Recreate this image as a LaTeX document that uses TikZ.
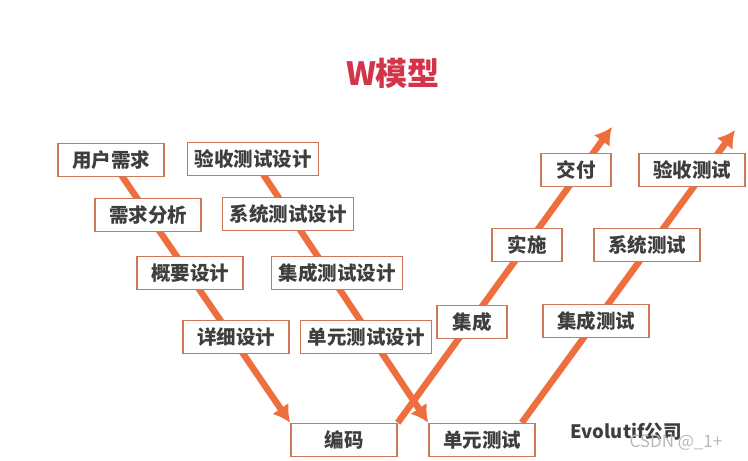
\documentclass[tikz,border=0pt]{standalone}
\usepackage{fontspec}
\usetikzlibrary{arrows.meta,backgrounds}
\newfontfamily\cjk{Noto Sans CJK SC}
\definecolor{wOrange}{RGB}{238,110,62}
\definecolor{boxEdge}{RGB}{204,120,88}
\definecolor{darkInk}{RGB}{62,62,62}
\definecolor{titleRed}{RGB}{212,52,74}
\tikzset{
  stage/.style={draw=boxEdge, line width=1.6pt, fill=white, align=center, minimum height=33pt, minimum width=106pt, inner xsep=3pt, inner ysep=2pt, text=darkInk, font=\cjk\bfseries\fontsize{19.5}{21}\selectfont},
  widestage/.style={stage, minimum width=131pt},
  shortstage/.style={stage, minimum width=70pt},
  vline/.style={-{Latex[length=17pt,width=20pt]}, line width=6.5pt, draw=wOrange}
}
\begin{document}
\begin{tikzpicture}[x=1pt,y=-1pt]
  \useasboundingbox (0,0) rectangle (748,461);
  \node[text=titleRed, font=\cjk\bfseries\fontsize{32}{36}\selectfont] (title) at (393,73) {W模型};
  % development branch
  \node[stage] (yhxq) at (111,160) {用户需求};
  \node[stage] (xqfx) at (148,215) {需求分析};
  \node[stage] (gysj) at (190,273) {概要设计};
  \node[stage] (xxsj) at (236,337) {详细设计};
  \node[stage] (bm) at (344,440) {编码};
  % test design branch
  \node[widestage] (ysc) at (253,159) {验收测试设计};
  \node[widestage] (xtc) at (288,214) {系统测试设计};
  \node[widestage] (jcc) at (337,273) {集成测试设计};
  \node[widestage] (dyc) at (366,337) {单元测试设计};
  \node[stage] (dycs) at (482,440) {单元测试};
  % rising branches
  \node[shortstage] (jc) at (472,322) {集成};
  \node[shortstage] (ss) at (527,245) {实施};
  \node[shortstage] (jf) at (576,170) {交付};
  \node[stage] (jccs) at (596,321) {集成测试};
  \node[stage] (xtcs) at (647,245) {系统测试};
  \node[stage] (yscs) at (692,170) {验收测试};
  \coordinate (tipA) at (612,127);
  \coordinate (tipB) at (735,130);
  \node[anchor=west, text=darkInk, font=\cjk\bfseries\fontsize{18.5}{20}\selectfont] (firm) at (567,432) {Evolutif公司};
  \node[anchor=west, text=gray!55, font=\cjk\fontsize{17}{20}\selectfont] (mark) at (626,443) {CSDN @\_1+};
  \begin{scope}[on background layer]
    \draw[vline] (yhxq.center) -- (bm.north west);
    \draw[vline] (ysc.center) -- (dycs.north west);
    \draw[vline] (bm.north east) -- (tipA);
    \draw[vline] ([xshift=-14pt]dycs.north east) -- (tipB);
  \end{scope}
\end{tikzpicture}
\end{document}
